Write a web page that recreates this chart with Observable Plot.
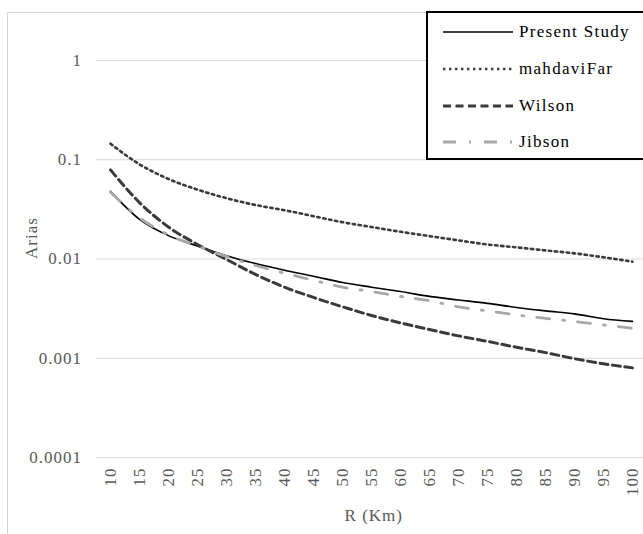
<!DOCTYPE html>
<html>
<head>
<meta charset="utf-8">
<script src="https://cdn.jsdelivr.net/npm/d3@7"></script>
<script src="https://cdn.jsdelivr.net/npm/@observablehq/plot@0.6"></script>
<style>
  html, body { margin: 0; padding: 0; background: #fff; }
  #wrap { position: relative; width: 643px; height: 534px; overflow: hidden; font-family: "Liberation Serif", "Times New Roman", Tinos, "DejaVu Serif", "Noto Serif", serif; }
  #frame { position: absolute; left: 7px; top: 12px; width: 660px; height: 560px; border: 1.5px solid #d4d4d4; box-sizing: border-box; pointer-events: none; }
  #legend { position: absolute; left: 426px; top: 11px; width: 240px; height: 149px; border: 2px solid #000; box-sizing: border-box; background: #fff; }
  .row { position: absolute; left: 443px; height: 20px; display: flex; align-items: center; font-size: 17px; letter-spacing: 1.3px; color: #000; white-space: nowrap; }
  .row svg { margin-right: 6px; }
  #chart { position: absolute; left: 0; top: 0; }
</style>
</head>
<body>
<div id="wrap">
  <div id="chart"></div>
  <div id="frame"></div>
  <div id="legend"></div>
</div>
<script>
// ---- data ----
const R = [10, 15, 20, 25, 30, 35, 40, 45, 50, 55, 60, 65, 70, 75, 80, 85, 90, 95, 100];
const presentStudy = [0.048, 0.0251, 0.0172, 0.0135, 0.0108, 0.0090, 0.0077, 0.0067, 0.0058, 0.0052, 0.0047, 0.0042, 0.00387, 0.00357, 0.00325, 0.0030, 0.0028, 0.0025, 0.00235];
const mahdaviFar = [0.145, 0.090, 0.064, 0.050, 0.041, 0.035, 0.031, 0.027, 0.0235, 0.021, 0.0188, 0.017, 0.0154, 0.014, 0.0131, 0.0122, 0.0114, 0.0104, 0.0094];
const wilson = [0.079, 0.037, 0.021, 0.0140, 0.0099, 0.0070, 0.0052, 0.0041, 0.0033, 0.0027, 0.00227, 0.00195, 0.00168, 0.00148, 0.00129, 0.00114, 0.00099, 0.00088, 0.0008];
const jibson = [0.047, 0.026, 0.0175, 0.0135, 0.0106, 0.0086, 0.0072, 0.0061, 0.0052, 0.0047, 0.0042, 0.0038, 0.0033, 0.0030, 0.00273, 0.00252, 0.00235, 0.00217, 0.0020];
const yTicks = [1, 0.1, 0.01, 0.001, 0.0001];
const yTickLabels = ["1", "0.1", "0.01", "0.001", "0.0001"];
const seriesNames = ["Present Study", "mahdaviFar", "Wilson", "Jibson"];
const xLabel = "R (Km)";
const yLabel = "Arias";

const seriesValues = [presentStudy, mahdaviFar, wilson, jibson];
const styles = [
  {stroke: "#000000", strokeWidth: 1.6, strokeDasharray: null},
  {stroke: "#3a3a3a", strokeWidth: 2.6, strokeDasharray: "2.4,3.6"},
  {stroke: "#3a3a3a", strokeWidth: 3, strokeDasharray: "8,4.5"},
  {stroke: "#a8a8a8", strokeWidth: 2.8, strokeDasharray: "13,13,2,13"}
];

const rows = seriesNames.map((name, i) => R.map((r, j) => ({series: name, r, v: seriesValues[i][j]})));

const FONT = "'Liberation Serif', 'Times New Roman', Tinos, 'DejaVu Serif', 'Noto Serif', serif";

const chart = Plot.plot({
  width: 643,
  height: 534,
  marginLeft: 95.5,
  marginRight: 0,
  marginTop: 60,
  marginBottom: 77,
  style: {fontFamily: FONT, background: "transparent", letterSpacing: "1px"},
  x: {type: "linear", domain: [7.5, 101.9]},
  y: {type: "log", domain: [0.0001, 1]},
  marks: [
    Plot.gridY(yTicks, {stroke: "#d9d9d9", strokeOpacity: 1, strokeWidth: 1.2}),
    Plot.axisY(yTicks, {tickSize: 0, tickPadding: 14, tickFormat: (d) => yTickLabels[yTicks.indexOf(d)], fontSize: 17, color: "#595959", label: null}),
    Plot.axisX(R, {tickSize: 0, tickPadding: 10, tickRotate: -90, fontSize: 17, color: "#595959", label: null, tickFormat: (d) => String(d)}),
    Plot.text([yLabel], {frameAnchor: "left", dx: -64, rotate: -90, fontSize: 17, fill: "#595959"}),
    Plot.text([xLabel], {frameAnchor: "bottom", dx: 4, dy: 63, fontSize: 17, fill: "#595959"}),
    ...rows.map((data, i) => Plot.line(data, {
      x: "r", y: "v", curve: "monotone-x",
      stroke: styles[i].stroke, strokeWidth: styles[i].strokeWidth,
      strokeDasharray: styles[i].strokeDasharray
    }))
  ]
});
document.getElementById("chart").appendChild(chart);

// legend
const wrap = document.getElementById("wrap");
const rowCenters = [32, 69, 106, 142];
seriesNames.forEach((name, i) => {
  const div = document.createElement("div");
  div.className = "row";
  div.style.top = (rowCenters[i] - 10) + "px";
  const s = styles[i];
  const dash = s.strokeDasharray ? `stroke-dasharray="${s.strokeDasharray}"` : "";
  div.innerHTML = `<svg width="70" height="20"><line x1="0" y1="10" x2="70" y2="10" stroke="${s.stroke}" stroke-width="${s.strokeWidth}" ${dash}/></svg><span>${name}</span>`;
  wrap.appendChild(div);
});
</script>
</body>
</html>
